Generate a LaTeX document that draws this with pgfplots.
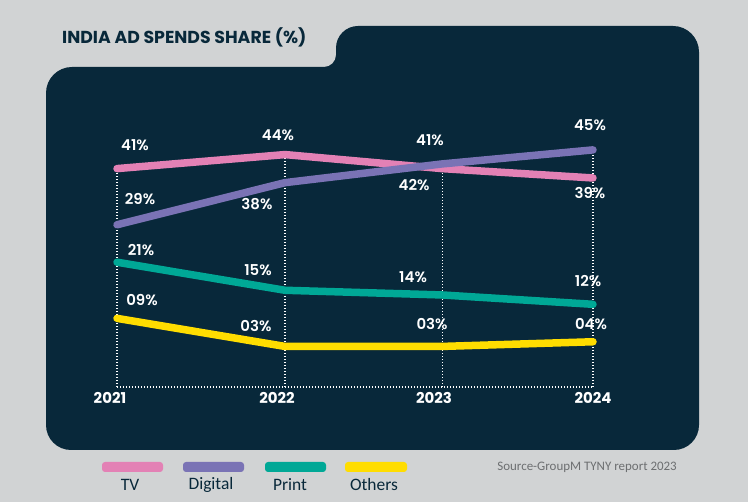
\documentclass[border=0pt]{standalone}
\usepackage{pgfplots}
\pgfplotsset{compat=1.18}
\usepackage{fontspec}
\setmainfont{Poppins}
\newfontfamily\semib{Poppins SemiBold}
\newfontfamily\legfont{Carlito}
\definecolor{bg}{HTML}{D1D3D4}
\definecolor{navy}{HTML}{08283A}
\definecolor{tv}{HTML}{E381B5}
\definecolor{dig}{HTML}{7A73B5}
\definecolor{prn}{HTML}{00A896}
\definecolor{oth}{HTML}{FFDD00}
\definecolor{srcgray}{HTML}{6D6F71}
\tikzset{lab/.style={text=white,font=\semib\fontsize{15}{18}\selectfont,inner sep=0pt},
  yr/.style={text=white,font=\bfseries\fontsize{15}{18}\selectfont,inner sep=0pt}}
\begin{document}
\begin{tikzpicture}
\useasboundingbox (0,0) rectangle (748bp,502bp);
\fill[bg] (0,0) rectangle (748bp,502bp);
% panel
\fill[navy] (673bp,476bp) -- (358bp,476bp)
  arc[start angle=90,end angle=180,radius=22bp] -- (336bp,447bp)
  arc[start angle=0,end angle=-90,radius=12bp] -- (72bp,435bp)
  arc[start angle=90,end angle=180,radius=26bp] -- (46bp,77bp)
  arc[start angle=180,end angle=270,radius=25bp] -- (674bp,52bp)
  arc[start angle=270,end angle=360,radius=25bp] -- (699bp,450bp)
  arc[start angle=0,end angle=90,radius=26bp] -- cycle;
% title
\node[anchor=west,text=navy,font=\bfseries\fontsize{17.4}{20}\selectfont,inner sep=0pt] at (62bp,465bp) {INDIA AD SPENDS SHARE (\%)};
% legend
\foreach \c/\xa/\xb/\lab/\lx in {tv/102/163/TV/130, dig/183/244/Digital/211, prn/265/326/Print/290, oth/345/407/Others/374}{
  \fill[\c,rounded corners=3bp] (\xa bp,30bp) rectangle (\xb bp,40bp);
  \node[text=navy,font=\legfont\fontsize{17.5}{20}\selectfont,inner sep=0pt] at (\lx bp,17bp) {\lab};
}
\node[anchor=east,text=srcgray,font=\legfont\fontsize{13}{15}\selectfont,inner sep=0pt] at (677bp,35bp) {Source-GroupM TYNY report 2023};
\begin{axis}[
  at={(117bp,115bp)}, anchor=south west,
  scale only axis, width=476bp, height=260.5bp,
  xmin=0, xmax=2.833, ymin=-5.67, ymax=50,
  axis line style={draw=none}, tick style={draw=none},
  xticklabels={}, yticklabels={}, xtick=\empty, ytick=\empty,
  clip=false
]
% dotted guides
\addplot[white,line width=1.2bp,dash pattern=on 1.4bp off 1.6bp] coordinates {(0,-5.67)(2.833,-5.67)};
\addplot[white,line width=1.2bp,dash pattern=on 1.4bp off 1.6bp] coordinates {(0,-5.67)(0,41)};
\addplot[white,line width=1.2bp,dash pattern=on 1.4bp off 1.6bp] coordinates {(1,-5.67)(1,44)};
\addplot[white,line width=1.2bp,dash pattern=on 1.4bp off 1.6bp] coordinates {(1.935,-5.67)(1.935,41.8)};
\addplot[white,line width=1.2bp,dash pattern=on 1.4bp off 1.6bp] coordinates {(2.833,-5.67)(2.833,45)};
% series
\addplot[tv,line width=7.5bp,line cap=round,line join=round] coordinates {(0,41)(1,44)(1.935,41)(2.833,39)};
\addplot[dig,line width=7.5bp,line cap=round,line join=round] coordinates {(0,29)(1,38)(1.935,42)(2.833,45)};
\addplot[prn,line width=7.5bp,line cap=round,line join=round] coordinates {(0,21)(1,15)(1.935,14)(2.833,12)};
\addplot[oth,line width=7.5bp,line cap=round,line join=round] coordinates {(0,9)(1,3)(1.935,3)(2.833,4)};
% value labels
\node[lab] at (axis cs:0.107,46.1) {41\%};
\node[lab] at (axis cs:0.958,48.1) {44\%};
\node[lab] at (axis cs:1.863,47.0) {41\%};
\node[lab] at (axis cs:2.815,35.7) {39\%};
\node[lab] at (axis cs:0.137,34.6) {29\%};
\node[lab] at (axis cs:0.833,33.5) {38\%};
\node[lab] at (axis cs:1.768,37.4) {42\%};
\node[lab] at (axis cs:2.815,50.2) {45\%};
\node[lab] at (axis cs:0.143,23.7) {21\%};
\node[lab] at (axis cs:0.839,19.4) {15\%};
\node[lab] at (axis cs:1.762,17.9) {14\%};
\node[lab] at (axis cs:2.804,17.0) {12\%};
\node[lab] at (axis cs:0.149,13.0) {09\%};
\node[lab] at (axis cs:0.827,7.4) {03\%};
\node[lab] at (axis cs:1.875,7.8) {03\%};
\node[lab] at (axis cs:2.821,7.8) {04\%};
% year labels
\node[yr] at (axis cs:-0.042,-8.0) {2021};
\node[yr] at (axis cs:0.952,-8.0) {2022};
\node[yr] at (axis cs:1.887,-8.0) {2023};
\node[yr] at (axis cs:2.833,-8.0) {2024};
\end{axis}
\end{tikzpicture}
\end{document}
